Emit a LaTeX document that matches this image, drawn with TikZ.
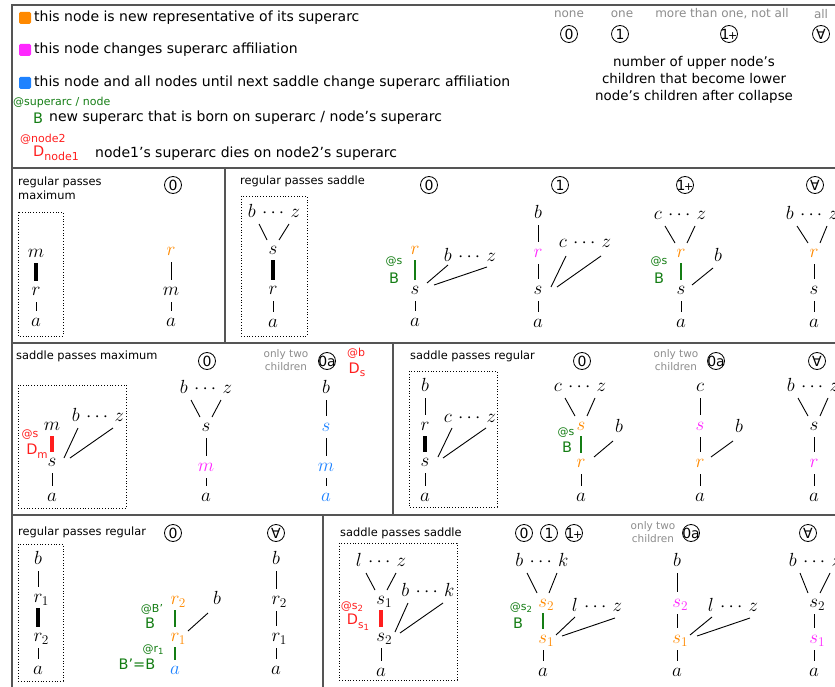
\RequirePackage{fix-cm}
\documentclass[tikz,border=0pt]{standalone}
\usepackage{fontspec}
\setmainfont{DejaVu Sans}
\usetikzlibrary{calc}
\definecolor{cOr}{RGB}{255,137,0}
\definecolor{cMg}{RGB}{255,40,255}
\definecolor{cBl}{RGB}{30,130,255}
\definecolor{cGn}{RGB}{20,125,20}
\definecolor{cRd}{RGB}{255,30,30}
\definecolor{cGy}{RGB}{140,140,140}
\definecolor{cFr}{RGB}{85,85,85}
\newcommand\sub[1]{_{\rlap{$\scriptstyle #1$}}}
\newcommand\vln[2]{\draw[lnk] ($(#1)+(0,11)$) -- ($(#1 |- #2)+(0,-11)$);}
\newcommand\vbar[3]{\draw[#3] ($(#1)+(0,10)$) -- ($(#1 |- #2)+(0,-10)$);}
\newcommand\fan[2]{\draw[lnk] ($(#1)+(-15,11)$) -- ($(#2)+(-6,-10)$);
  \draw[lnk] ($(#1)+(15,11)$) -- ($(#2)+(6,-10)$);}
\newcommand\sm[1]{\raisebox{-3.5pt}{\fontsize{10.5}{10.5}\selectfont #1}}
\newcommand\smm[1]{\raisebox{-2pt}{\fontsize{8.5}{8.5}\selectfont #1}}
\newcommand\oneplus{\makebox[0pt]{1\kern-1.5pt{\fontsize{11}{11}\selectfont+}}}
\tikzset{
  mth/.style={inner sep=0pt, text height=9.5pt, text depth=0pt, font=\fontsize{19}{19}\selectfont},
  lnk/.style={line width=0.9pt, black},
  tbar/.style={line width=3.5pt, black},
  gbar/.style={line width=2.6pt, cGn},
  rbar/.style={line width=3.5pt, cRd},
  badge/.style={circle, draw, line width=0.8pt, minimum size=17pt, inner sep=0pt, font=\fontsize{14}{14}\selectfont},
  ttl/.style={anchor=west, inner sep=0pt, font=\fontsize{11.4}{14}\selectfont, align=left},
  leg/.style={anchor=west, inner sep=0pt, font=\fontsize{14}{16}\selectfont},
  graynote/.style={text=cGy, font=\fontsize{10.5}{13}\selectfont, align=center, inner sep=0pt},
  graytop/.style={text=cGy, font=\fontsize{12}{12}\selectfont, inner sep=0pt},
  atl/.style={font=\fontsize{11}{11}\selectfont, inner sep=0pt},
  bigl/.style={font=\fontsize{14.5}{14.5}\selectfont, inner sep=0pt},
  frm/.style={draw=cFr, line width=1.3pt},
  dotbox/.style={draw=black, dotted, line width=0.8pt},
}
\begin{document}
\begin{tikzpicture}[x=1pt,y=-1pt]
\useasboundingbox (0,0) rectangle (835,687);
\clip (0,0) rectangle (835,687);
% frame
\draw[frm] (12,5) rectangle (860,700);
\draw[frm] (12,168) -- (860,168) (12,343) -- (860,343) (12,515) -- (860,515)
  (225,168) -- (225,343) (393,343) -- (393,515) (323,515) -- (323,700);
% legend
\fill[cOr, rounded corners=1.5pt] (19,12) rectangle (31,24);
\node[leg] (l1) at (34,18) {this node is new representative of its superarc};
\fill[cMg, rounded corners=1.5pt] (19,44) rectangle (31,56);
\node[leg] (l2) at (34,50) {this node changes superarc affiliation};
\fill[cBl, rounded corners=1.5pt] (19,77) rectangle (31,89);
\node[leg] (l3) at (34,83) {this node and all nodes until next saddle change superarc affiliation};
\node[atl, text=cGn, anchor=west] (l4) at (13,102) {@superarc / node};
\node[bigl, text=cGn] (l5) at (38,118) {B};
\node[leg] (l6) at (49,118) {new superarc that is born on superarc / node's superarc};
\node[atl, text=cRd, anchor=west] (l7) at (20,139) {@node2};
\node[bigl, text=cRd, anchor=west] (l8) at (33,153) {D\raisebox{-4pt}{\fontsize{11}{11}\selectfont node1}};
\node[leg] (l9) at (95,154) {node1's superarc dies on node2's superarc};
% top right legend
\node[graytop] (k0t) at (569,14) {none};
\node[graytop] (k1t) at (622,14) {one};
\node[graytop] (k2t) at (722,14) {more than one, not all};
\node[graytop] (k3t) at (821,14) {all};
\node[badge] (k0) at (569,34) {0};
\node[badge] (k1) at (620,34) {1};
\node[badge] (k2) at (729,34) {\oneplus};
\node[badge] (k3) at (821,34) {∀};
\node[anchor=center, align=center, inner sep=0pt, font=\fontsize{13.4}{17}\selectfont] (k4) at (694,80)
  {number of upper node's\\children that become lower\\node's children after collapse};
% ===== Row 2 =====
% regular passes maximum
\node[ttl] (tA) at (18,188) {regular passes\\maximum};
\node[badge] (bA) at (173,185) {0};
\draw[dotbox] (18,212) rectangle (63,336);
\node[mth] (A1m) at (36,253) {$m$};
\node[mth] (A1r) at (36,291) {$r$};
\node[mth] (A1a) at (36,322) {$a$};
\vbar{A1m}{A1r}{tbar} \vln{A1r}{A1a}
\node[mth, text=cOr] (A2r) at (171,251) {$r$};
\node[mth] (A2m) at (171,291) {$m$};
\node[mth] (A2a) at (171,322) {$a$};
\vln{A2r}{A2m} \vln{A2m}{A2a}
% regular passes saddle
\node[ttl] (tB) at (240,181) {regular passes saddle};
\node[badge] (bB) at (429,185) {0};
\draw[dotbox] (241,196) rectangle (307,336);
\node[mth] (B1t) at (274,213) {$b\,\cdots\,z$};
\node[mth] (B1s) at (273,250) {$s$};
\node[mth] (B1r) at (273,290) {$r$};
\node[mth] (B1a) at (273,323) {$a$};
\fan{B1t}{B1s} \vbar{B1s}{B1r}{tbar} \vln{B1r}{B1a}
\node[mth, text=cOr] (B2r) at (415,250) {$r$};
\node[mth] (B2s) at (415,290) {$s$};
\node[mth] (B2a) at (415,322) {$a$};
\vbar{B2r}{B2s}{gbar} \vln{B2s}{B2a}
\node[atl, text=cGn] (B2at) at (394,262) {@s};
\node[bigl, text=cGn] (B2B) at (394,278) {B};
\node[mth] (B2t) at (470,257) {$b\,\cdots\,z$};
\draw[lnk] ($(B2s)+(12,-7)$) -- ($(B2t)+(-22,8)$);
\draw[lnk] ($(B2s)+(19,-5)$) -- ($(B2t)+(17,10)$);
% one
\node[badge] (bC) at (560,185) {1};
\node[mth] (Cb) at (538,214) {$b$};
\node[mth, text=cMg] (Cr) at (538,253) {$r$};
\node[mth] (Cs) at (538,290) {$s$};
\node[mth] (Ca) at (538,323) {$a$};
\vln{Cb}{Cr} \vln{Cr}{Cs} \vln{Cs}{Ca}
\node[mth] (Ct) at (585,243) {$c\,\cdots\,z$};
\draw[lnk] ($(Cs)+(13,-3)$) -- ($(Ct)+(-19,13)$);
\draw[lnk] ($(Cs)+(19,-3)$) -- ($(Ct)+(16,13)$);
% more than one
\node[badge] (bD) at (685,185) {\oneplus};
\node[mth] (Dt) at (680,215) {$c\,\cdots\,z$};
\node[mth, text=cOr] (Dr) at (681,253) {$r$};
\node[mth] (Ds) at (681,290) {$s$};
\node[mth] (Da) at (681,323) {$a$};
\fan{Dt}{Dr} \vbar{Dr}{Ds}{gbar} \vln{Ds}{Da}
\node[atl, text=cGn] (Dat) at (659,262) {@s};
\node[bigl, text=cGn] (DB) at (659,278) {B};
\node[mth] (Db) at (718,257) {$b$};
\draw[lnk] ($(Ds)+(11,-5)$) -- ($(Db)+(-5,11)$);
% all
\node[badge] (bE) at (815,185) {∀};
\node[mth] (Et) at (812,215) {$b\,\cdots\,z$};
\node[mth, text=cOr] (Er) at (814,253) {$r$};
\node[mth] (Es) at (814,290) {$s$};
\node[mth] (Ea) at (814,323) {$a$};
\fan{Et}{Er} \vln{Er}{Es} \vln{Es}{Ea}
% ===== Row 3 =====
% saddle passes maximum
\node[ttl] (tF) at (16,356) {saddle passes maximum};
\node[badge] (bF) at (207,361) {0};
\draw[dotbox] (18,385) rectangle (126,508);
\node[mth] (F1m) at (52,426) {$m$};
\node[mth] (F1s) at (52,462) {$s$};
\node[mth] (F1a) at (52,497) {$a$};
\vbar{F1m}{F1s}{rbar} \vln{F1s}{F1a}
\node[atl, text=cRd] (F1at) at (30,435) {@s};
\node[bigl, text=cRd] (F1D) at (37,451) {D\sm{m}};
\node[mth] (F1t) at (98,417) {$b\,\cdots\,z$};
\draw[lnk] ($(F1s)+(12,-4)$) -- ($(F1t)+(-20,11)$);
\draw[lnk] ($(F1s)+(18,-4)$) -- ($(F1t)+(15,11)$);
\node[mth] (F2t) at (206,389) {$b\,\cdots\,z$};
\node[mth] (F2s) at (206,427) {$s$};
\node[mth, text=cMg] (F2m) at (206,467) {$m$};
\node[mth] (F2a) at (206,497) {$a$};
\fan{F2t}{F2s} \vln{F2s}{F2m} \vln{F2m}{F2a}
\node[graynote] (F3n) at (286,360) {only two\\children};
\node[badge] (bF3) at (327,361) {\makebox[0pt]{0a}};
\node[atl, text=cRd] (F3at) at (356,353) {@b};
\node[bigl, text=cRd] (F3D) at (357,370) {D\sm{s}};
\node[mth] (F3b) at (326,389) {$b$};
\node[mth, text=cBl] (F3s) at (326,427) {$s$};
\node[mth, text=cBl] (F3m) at (326,467) {$m$};
\node[mth, text=cBl] (F3a) at (326,497) {$a$};
\vln{F3b}{F3s} \vln{F3s}{F3m} \vln{F3m}{F3a}
% saddle passes regular
\node[ttl] (tG) at (410,356) {saddle passes regular};
\node[badge] (bG) at (582,361) {0};
\draw[dotbox] (409,371) rectangle (497,507);
\node[mth] (G1b) at (425,387) {$b$};
\node[mth] (G1r) at (425,426) {$r$};
\node[mth] (G1s) at (425,462) {$s$};
\node[mth] (G1a) at (425,497) {$a$};
\vln{G1b}{G1r} \vbar{G1r}{G1s}{tbar} \vln{G1s}{G1a}
\node[mth] (G1t) at (470,418) {$c\,\cdots\,z$};
\draw[lnk] ($(G1s)+(13,-5)$) -- ($(G1t)+(-18,10)$);
\draw[lnk] ($(G1s)+(18,-4)$) -- ($(G1t)+(16,10)$);
\node[mth] (G2t) at (580,387) {$c\,\cdots\,z$};
\node[mth, text=cOr] (G2s) at (581,426) {$s$};
\node[mth, text=cOr] (G2r) at (581,463) {$r$};
\node[mth] (G2a) at (581,497) {$a$};
\fan{G2t}{G2s} \vbar{G2s}{G2r}{gbar} \vln{G2r}{G2a}
\node[atl, text=cGn] (G2at) at (566,433) {@s};
\node[bigl, text=cGn] (G2B) at (567,447) {B};
\node[mth] (G2b) at (619,428) {$b$};
\draw[lnk] ($(G2r)+(13,-6)$) -- ($(G2b)+(-6,13)$);
\node[graynote] (G3n) at (676,360) {only two\\children};
\node[badge] (bG3) at (716,361) {\makebox[0pt]{0a}};
\node[mth] (G3c) at (700,387) {$c$};
\node[mth, text=cMg] (G3s) at (700,426) {$s$};
\node[mth, text=cOr] (G3r) at (700,463) {$r$};
\node[mth] (G3a) at (700,497) {$a$};
\vln{G3c}{G3s} \vln{G3s}{G3r} \vln{G3r}{G3a}
\node[mth] (G3b) at (739,428) {$b$};
\draw[lnk] ($(G3r)+(11,-6)$) -- ($(G3b)+(-6,13)$);
\node[badge] (bG4) at (817,361) {∀};
\node[mth] (G4t) at (813,387) {$b\,\cdots\,z$};
\node[mth] (G4s) at (814,426) {$s$};
\node[mth, text=cMg] (G4r) at (814,463) {$r$};
\node[mth] (G4a) at (814,497) {$a$};
\fan{G4t}{G4s} \vln{G4s}{G4r} \vln{G4r}{G4a}
% ===== Row 4 =====
% regular passes regular
\node[ttl] (tH) at (18,532) {regular passes regular};
\node[badge] (bH) at (173,533) {0};
\draw[dotbox] (18,544) rectangle (63,681);
\node[mth] (H1b) at (38,560) {$b$};
\node[mth] (H1r) at (38,598) {$r\sub1$};
\node[mth] (H1q) at (38,637) {$r\sub2$};
\node[mth] (H1a) at (38,670) {$a$};
\vln{H1b}{H1r} \vbar{H1r}{H1q}{tbar} \vln{H1q}{H1a}
\node[mth, text=cOr] (H2q) at (175,600) {$r\sub2$};
\node[mth, text=cOr] (H2r) at (175,637) {$r\sub1$};
\node[mth, text=cBl] (H2a) at (175,670) {$a$};
\vbar{H2q}{H2r}{gbar} \vbar{H2r}{H2a}{gbar}
\node[atl, text=cGn] (H2at1) at (152,609) {@B'};
\node[bigl, text=cGn] (H2B1) at (150,623) {B};
\node[atl, text=cGn] (H2at2) at (153,650) {@r\smm{1}};
\node[bigl, text=cGn] (H2B2) at (137,664) {B'=B};
\node[mth] (H2b) at (217,600) {$b$};
\draw[lnk] ($(H2r)+(13,-6)$) -- ($(H2b)+(-9,13)$);
\node[badge] (bH3) at (276,533) {∀};
\node[mth] (H3b) at (276,560) {$b$};
\node[mth] (H3q) at (276,600) {$r\sub2$};
\node[mth] (H3r) at (276,637) {$r\sub1$};
\node[mth] (H3a) at (276,670) {$a$};
\vln{H3b}{H3q} \vln{H3q}{H3r} \vln{H3r}{H3a}
% saddle passes saddle
\node[ttl] (tI) at (340,533) {saddle passes saddle};
\node[badge] (bI0) at (524,533) {0};
\node[badge] (bI1) at (549,533) {1};
\node[badge] (bI2) at (574,533) {\oneplus};
\draw[dotbox] (339,543) rectangle (457,680);
\node[mth] (I1t) at (381,562) {$l\,\cdots\,z$};
\node[mth] (I1s) at (381,600) {$s\sub1$};
\node[mth] (I1q) at (381,637) {$s\sub2$};
\node[mth] (I1a) at (381,672) {$a$};
\fan{I1t}{I1s} \vbar{I1s}{I1q}{rbar} \vln{I1q}{I1a}
\node[atl, text=cRd] (I1at) at (352,607) {@s\smm{2}};
\node[bigl, text=cRd] (I1D) at (358,622) {D\raisebox{-3.5pt}{\fontsize{10.5}{10.5}\selectfont s\smm{1}}};
\node[mth] (I1t2) at (428,592) {$b\,\cdots\,k$};
\draw[lnk] ($(I1q)+(14,-5)$) -- ($(I1t2)+(-20,11)$);
\draw[lnk] ($(I1q)+(19,-4)$) -- ($(I1t2)+(15,11)$);
\node[mth] (I2t) at (542,562) {$b\,\cdots\,k$};
\node[mth, text=cOr] (I2q) at (543,603) {$s\sub2$};
\node[mth, text=cOr] (I2s) at (543,639) {$s\sub1$};
\node[mth] (I2a) at (543,672) {$a$};
\fan{I2t}{I2q} \vbar{I2q}{I2s}{gbar} \vln{I2s}{I2a}
\node[atl, text=cGn] (I2at) at (521,608) {@s\smm{2}};
\node[bigl, text=cGn] (I2B) at (518,623) {B};
\node[mth] (I2t2) at (597,607) {$l\,\cdots\,z$};
\draw[lnk] ($(I2s)+(13,-4)$) -- ($(I2t2)+(-22,10)$);
\draw[lnk] ($(I2s)+(19,-3)$) -- ($(I2t2)+(18,11)$);
\node[graynote] (I3n) at (653,532) {only two\\children};
\node[badge] (bI3) at (691,533) {\makebox[0pt]{0a}};
\node[mth] (I3b) at (677,562) {$b$};
\node[mth, text=cMg] (I3q) at (677,603) {$s\sub2$};
\node[mth, text=cOr] (I3s) at (677,639) {$s\sub1$};
\node[mth] (I3a) at (677,672) {$a$};
\vln{I3b}{I3q} \vln{I3q}{I3s} \vln{I3s}{I3a}
\node[mth] (I3t) at (733,607) {$l\,\cdots\,z$};
\draw[lnk] ($(I3s)+(13,-4)$) -- ($(I3t)+(-21,10)$);
\draw[lnk] ($(I3s)+(20,-3)$) -- ($(I3t)+(17,11)$);
\node[badge] (bI4) at (808,533) {∀};
\node[mth] (I4t) at (815,562) {$b\,\cdots\,z$};
\node[mth] (I4q) at (814,603) {$s\sub2$};
\node[mth, text=cMg] (I4s) at (814,639) {$s\sub1$};
\node[mth] (I4a) at (814,672) {$a$};
\fan{I4t}{I4q} \vln{I4q}{I4s} \vln{I4s}{I4a}
\end{tikzpicture}
\end{document}
